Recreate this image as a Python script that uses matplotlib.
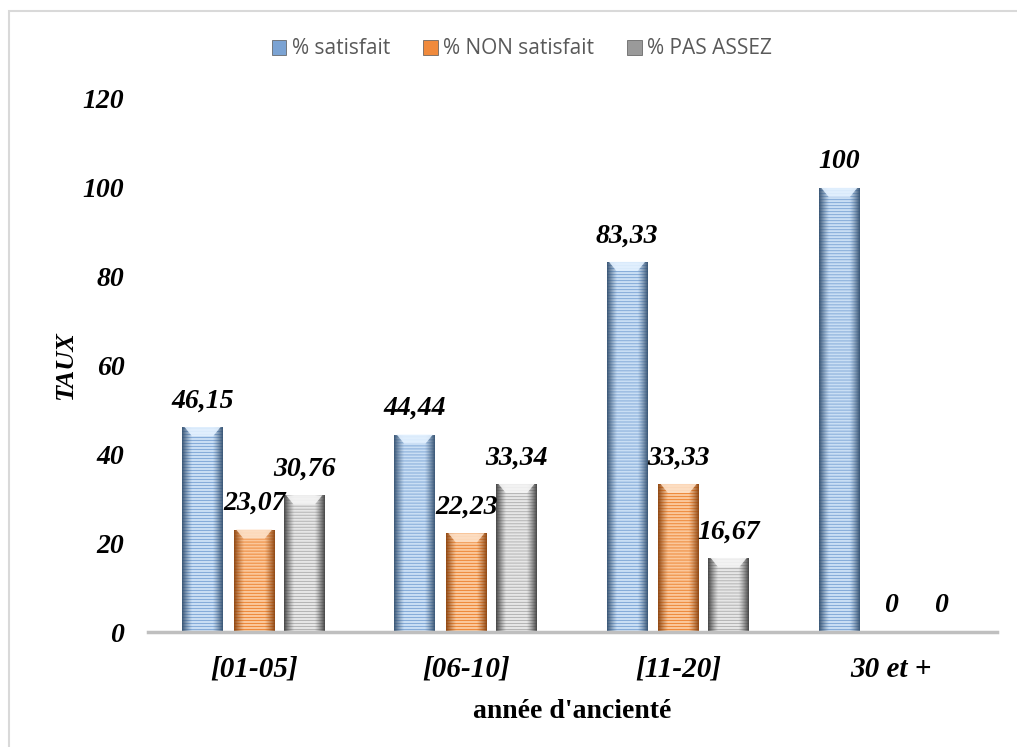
import numpy as np
import matplotlib
matplotlib.use("Agg")
import matplotlib.pyplot as plt
from matplotlib.patches import Rectangle, Polygon
from matplotlib.colors import to_rgb

# ---- data ----
categories = ["[01-05]", "[06-10]", "[11-20]", "30 et +"]
series_names = ["% satisfait", "% NON satisfait", "% PAS ASSEZ"]
satisfait = [46.15, 44.44, 83.33, 100]
non_satisfait = [23.07, 22.23, 33.33, 0]
pas_assez = [30.76, 33.34, 16.67, 0]
value_labels = [
    ["46,15", "44,44", "83,33", "100"],
    ["23,07", "22,23", "33,33", "0"],
    ["30,76", "33,34", "16,67", "0"],
]
yticks = [0, 20, 40, 60, 80, 100, 120]

# ---- style ----
palettes = [
    # (light stripe, dark stripe, edge shade, bevel)
    ("#c9def4", "#86acd9", "#34506f", "#e3f1ff"),
    ("#fbc79a", "#ee8a3c", "#8a430f", "#fde0c6"),
    ("#e6e6e6", "#b5b5b5", "#3f3f3f", "#f4f4f4"),
]
legend_colors = ["#7ba3d3", "#f08a3c", "#9a9a9a"]
serif_bi = dict(family="Liberation Serif", weight="bold", style="italic")

fig = plt.figure(figsize=(10.17, 7.47), dpi=100)
ax = fig.add_axes([148 / 1017, 1 - 632 / 747, (997 - 148) / 1017, (632 - 99) / 747])
ax.set_xlim(0, len(categories))
ax.set_ylim(0, 120)

# frame line round the chart area
fig.patches.append(Rectangle((8.5 / 1017, -0.1), 1.2, 1 - 10.5 / 747 + 0.1,
                             transform=fig.transFigure, fill=False,
                             edgecolor="#d9d9d9", linewidth=1.5))

x = np.arange(len(categories)) + 0.5
offsets = [-0.243, 0.0, 0.236]
width = 0.193
all_series = [satisfait, non_satisfait, pas_assez]

px_per_unit = (632 - 99) / 120.0
n_rows = 533
stripe = np.array([(0.0 if (r % 3) == 2 else 1.0) for r in range(n_rows)])
cols = 40
xs = np.linspace(-1, 1, cols)
edge = np.clip((np.abs(xs) - 0.5) / 0.5, 0, 1) ** 1.2

for s, (vals, pal) in enumerate(zip(all_series, palettes)):
    light, dark, shade, bevel = [np.array(to_rgb(c)) for c in pal]
    rows = stripe[:, None, None] * light + (1 - stripe[:, None, None]) * dark
    img = rows * (1 - 0.9 * edge[None, :, None]) + shade * 0.9 * edge[None, :, None]
    img = np.broadcast_to(img, (n_rows, cols, 3)).copy()
    bars = ax.bar(x + offsets[s], vals, width=width, color=pal[0],
                  edgecolor="none", zorder=2)
    for b in bars:
        h = b.get_height()
        if h <= 0:
            continue
        x0, w = b.get_x(), b.get_width()
        im = ax.imshow(img, extent=(x0, x0 + w, 0, 120), aspect="auto",
                       interpolation="antialiased", zorder=3, origin="upper")
        im.set_clip_path(b)
        # bevelled top
        bh = 9 / px_per_unit
        ax.add_patch(Polygon([(x0 + w * 0.06, h), (x0 + w * 0.94, h),
                              (x0 + w * 0.76, h - bh), (x0 + w * 0.24, h - bh)],
                             closed=True, facecolor=bevel, edgecolor="none",
                             alpha=0.9, zorder=4))
    for xi, v, lab in zip(x + offsets[s], vals, value_labels[s]):
        ax.annotate(lab, (xi, v), xytext=(0, 26), textcoords="offset pixels",
                    ha="center", va="center", fontsize=20, color="black",
                    zorder=6, **serif_bi)

ax.set_xlim(0, len(categories))
ax.set_ylim(0, 120)

# baseline
ax.axhline(0, color="#bfbfbf", linewidth=2.5, zorder=5, clip_on=False)
for sp in ax.spines.values():
    sp.set_visible(False)

ax.set_yticks(yticks)
ax.set_yticklabels([str(t) for t in yticks])
ax.set_xticks(x)
ax.set_xticklabels(categories)
ax.tick_params(axis="both", length=0)
ax.tick_params(axis="y", pad=17)
ax.tick_params(axis="x", pad=17)
for lab in ax.get_yticklabels():
    lab.set_fontfamily("Liberation Serif")
    lab.set_fontweight("bold")
    lab.set_fontstyle("italic")
    lab.set_fontsize(20)
for lab in ax.get_xticklabels():
    lab.set_fontfamily("Liberation Serif")
    lab.set_fontweight("bold")
    lab.set_fontstyle("italic")
    lab.set_fontsize(21)

ax.set_ylabel("TAUX", fontsize=19, labelpad=4, **serif_bi)
ax.set_xlabel("année d'ancienté", fontsize=20, family="Liberation Serif",
              weight="bold", labelpad=12)

handles = [Rectangle((0, 0), 1, 1, facecolor=c, edgecolor="#555555", linewidth=0.5)
           for c in legend_colors]
fig.legend(handles, series_names, loc="center", ncol=3,
           bbox_to_anchor=(522 / 1017, 1 - 49 / 747), frameon=False,
           prop=dict(family="Open Sans", size=15), labelcolor="#595959",
           handlelength=0.7, handleheight=0.7, handletextpad=0.25,
           columnspacing=1.6)

fig.savefig("out.png", dpi=100, facecolor="white")
